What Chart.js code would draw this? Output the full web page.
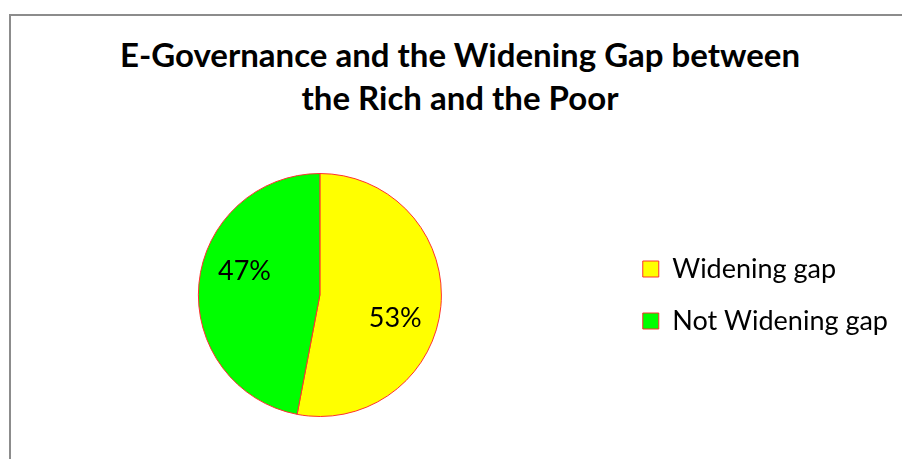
<!DOCTYPE html>
<html>
<head>
<meta charset="utf-8">
<title>E-Governance and the Widening Gap</title>
<script src="https://cdn.jsdelivr.net/npm/chart.js@4.4.1/dist/chart.umd.min.js"></script>
<style>
  html, body { margin: 0; padding: 0; background: #fff; overflow: hidden; }
  .frame {
    position: absolute; left: 9px; top: 14px; width: 960px; height: 520px;
    border-left: 2px solid #8c8c8c; border-top: 2px solid #8c8c8c;
  }
  h1 {
    position: absolute; left: 0; top: 33px; width: 920px; margin: 0;
    text-align: center; font: bold 33px Lato, sans-serif; line-height: 43px; color: #000;
  }
  #pie { position: absolute; left: 0; top: 0; }
</style>
</head>
<body>
<div class="frame"></div>
<h1>E-Governance and the Widening Gap between<br>the Rich and the Poor</h1>
<canvas id="pie" width="902" height="459"></canvas>
<script>
(function () {
  var LABELS = ['Widening gap', 'Not Widening gap'];
  var SHARES = [53, 47];
  var COLORS = ['#ffff00', '#00ff00'];
  var EDGE = '#ff3030';

  // percent labels inside each slice, nudged clockwise a little off the middle
  var sliceLabels = {
    id: 'sliceLabels',
    afterDatasetsDraw: function (chart) {
      var ctx = chart.ctx;
      var meta = chart.getDatasetMeta(0);
      var values = chart.data.datasets[0].data;
      ctx.save();
      ctx.font = '27px Lato, sans-serif';
      ctx.fillStyle = '#000';
      ctx.textAlign = 'center';
      ctx.textBaseline = 'middle';
      meta.data.forEach(function (arc, i) {
        var p = arc.getProps(['x', 'y', 'startAngle', 'endAngle', 'outerRadius'], true);
        var mid = (p.startAngle + p.endAngle) / 2 + 12 * Math.PI / 180;
        var r = p.outerRadius * 0.65;
        ctx.fillText(values[i] + '%', p.x + Math.cos(mid) * r, p.y + Math.sin(mid) * r);
      });
      ctx.restore();
    }
  };

  new Chart(document.getElementById('pie'), {
    type: 'pie',
    data: {
      labels: LABELS,
      datasets: [{
        data: SHARES,
        backgroundColor: COLORS,
        borderColor: EDGE,
        borderWidth: 1
      }]
    },
    options: {
      responsive: false,
      animation: false,
      devicePixelRatio: 1,
      layout: { padding: { top: 173, bottom: 42, left: 22, right: 4 } },
      plugins: {
        title: { display: false },
        tooltip: { enabled: false },
        legend: {
          position: 'right',
          labels: {
            boxWidth: 16,
            boxHeight: 16,
            padding: 25,
            color: '#000',
            font: { family: 'Lato, sans-serif', size: 27 }
          }
        }
      }
    },
    plugins: [sliceLabels]
  });
})();
</script>
</body>
</html>
